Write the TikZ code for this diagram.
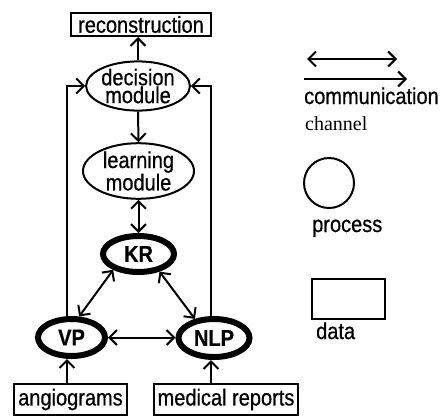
\documentclass[tikz,border=0pt]{standalone}
\usepackage{fontspec}
\setmainfont{Liberation Sans}[FakeStretch=0.87,FakeBold=0.6]
\newfontfamily\chanfont{Liberation Serif}
\usetikzlibrary{arrows.meta,shapes.geometric}
\begin{document}
\begin{tikzpicture}[x=1pt,y=-1pt,
  every node/.style={font=\fontsize{23}{16.5}\selectfont, inner sep=0pt},
  databox/.style={draw, rectangle, line width=2pt, align=center},
  proc/.style={draw, ellipse, line width=2pt, align=center},
  core/.style={draw, ellipse, line width=6pt, font=\fontsize{23}{16.5}\selectfont\bfseries},
  conn/.style={line width=2pt},
  tip/.style={-{Straight Barb[length=7.5pt,width=15pt]}},
  both/.style={{Straight Barb[length=7.5pt,width=15pt]}-{Straight Barb[length=7.5pt,width=15pt]}},
]
\useasboundingbox (0,0) rectangle (443,418);

% main nodes
\node[databox, minimum width=140pt, minimum height=23pt] (rec) at (141,24.5) {reconstruction};
\node[proc, minimum width=98pt, minimum height=39pt] (dec) at (138,86) {decision\\module};
\node[proc, minimum width=111pt, minimum height=35pt] (learn) at (138.5,171) {learning\\module};
\node[core, minimum width=71pt, minimum height=36pt] (KR) at (138.5,254) {KR};
\node[core, minimum width=67pt, minimum height=37pt] (VP) at (71.5,337.5) {VP};
\node[core, minimum width=71pt, minimum height=38pt] (NLP) at (214,338) {NLP};
\node[databox, minimum width=113pt, minimum height=31pt] (ang) at (70.5,399.5) {angiograms};
\node[databox, minimum width=144pt, minimum height=31pt] (med) at (226,399.5) {medical reports};

\coordinate (lx) at (67,0);
\coordinate (rx) at (211,0);

% connectors
\draw[conn,tip] (dec.north) -- (dec.north |- rec.south);
\draw[conn,tip] (dec.south) -- (learn.north);
\draw[conn,both] (learn.south) -- (KR.north);
\draw[conn,both] (KR.212) -- (VP.70);
\draw[conn,both] (KR.-40) -- (NLP.135);
\draw[conn,both] (VP.east) -- (VP.east -| NLP.west);
\draw[conn,tip] (VP.north -| lx) -- (lx |- dec.west) -- (dec.west);
\draw[conn,tip] (NLP.north -| rx) -- (rx |- dec.east) -- (dec.east);
\draw[conn,tip] (ang.north -| lx) -- (lx |- VP.south);
\draw[conn,tip] (med.north -| rx) -- (rx |- NLP.south);

% legend
\coordinate (d1) at (307,59);
\coordinate (d2) at (397,59);
\draw[conn,both] (d1) -- (d2);
\coordinate (s1) at (304,79);
\coordinate (s2) at (407,79);
\draw[conn,tip] (s1) -- (s2);
\node[anchor=base west] (comm) at (304,104) {communication};
\node[anchor=base west, font=\chanfont\fontsize{20}{18.5}\selectfont] (chan) at (305,130) {channel};
\node[draw, circle, line width=2pt, minimum size=50pt] (pc) at (329,183) {};
\node[anchor=base west] (proclbl) at (312,232) {process};
\node[databox, minimum width=73pt, minimum height=40pt] (dbox) at (348.5,299) {};
\node[anchor=base west] (datalbl) at (316,339) {data};
\end{tikzpicture}
\end{document}
